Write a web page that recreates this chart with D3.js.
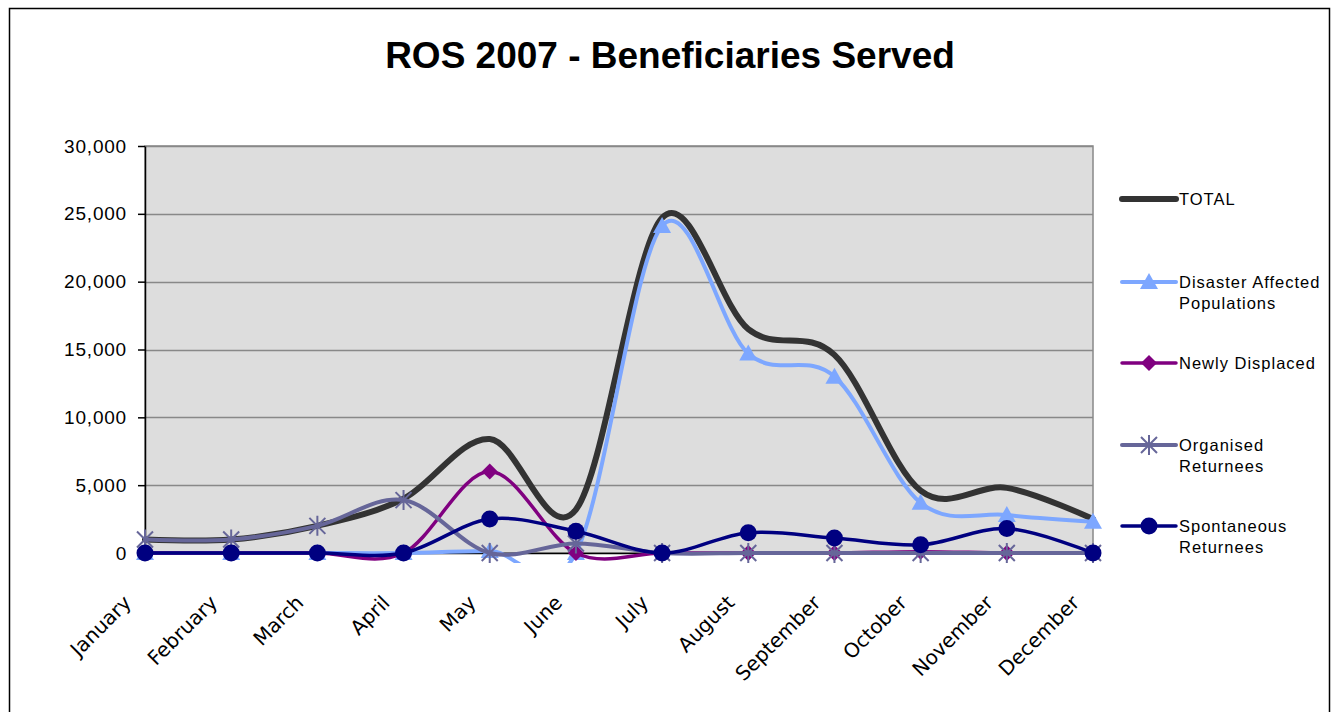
<!DOCTYPE html>
<html>
<head>
<meta charset="utf-8">
<script src="https://cdnjs.cloudflare.com/ajax/libs/d3/7.8.5/d3.min.js"></script>
<style>
body { margin: 0; background: #fff; }
svg { display: block; }
</style>
</head>
<body>
<svg id="chart" width="1332" height="712"></svg>
<script>
// months on the category axis
var months = ["January", "February", "March", "April", "May", "June",
	"July", "August", "September", "October", "November", "December"];

// beneficiaries per month
var total = [1000, 1000, 2000, 4000, 8400, 3200, 24700, 16500, 14600, 4600, 4800, 2500];
var disasterAffected = [0, 0, 0, 0, 150, 0, 24100, 14700, 13000, 3700, 2800, 2300];
var newlyDisplaced = [0, 0, 0, 0, 6000, 0, 0, 0, 0, 100, 0, 0];
var organisedReturnees = [1000, 1000, 2000, 3900, 0, 700, 0, 0, 0, 0, 0, 0];
var spontaneousReturnees = [0, 0, 0, 0, 2500, 1600, 0, 1500, 1100, 600, 1800, 0];

var yTicks = [0, 5000, 10000, 15000, 20000, 25000, 30000];

var series = [
	{name: ["TOTAL"], values: total, color: "#333333", width: 6, marker: "none"},
	{name: ["Disaster Affected", "Populations"], values: disasterAffected, color: "#7DA7FF", width: 4, marker: "triangle"},
	{name: ["Newly Displaced"], values: newlyDisplaced, color: "#800080", width: 3.5, marker: "diamond"},
	{name: ["Organised", "Returnees"], values: organisedReturnees, color: "#666699", width: 4, marker: "star"},
	{name: ["Spontaneous", "Returnees"], values: spontaneousReturnees, color: "#000080", width: 3.5, marker: "circle"}
];

var svg = d3.select("#chart");

//outer chart border (runs off the bottom of the picture)
svg.append("rect")
.attr("x", 9.5)
.attr("y", 8.5)
.attr("width", 1320)
.attr("height", 720)
.attr("fill", "#fff")
.attr("stroke", "#000")
.attr("stroke-width", 1.5);

svg.append("text")
.attr("x", 670)
.attr("y", 68)
.attr("text-anchor", "middle")
.style("font-family", "'Liberation Sans', Arial, sans-serif")
.style("font-weight", "bold")
.style("font-size", "37px")
.text("ROS 2007 - Beneficiaries Served");

//plot box (window.top is taken, so no plain "top")
var plotLeft = 145, plotRight = 1093, plotTop = 146, plotBottom = 553;

var x = d3.scalePoint()
.domain(months)
.range([plotLeft, plotRight]);

var y = d3.scaleLinear()
.domain([0, 30000])
.range([plotBottom, plotTop]);

//plot area
svg.append("rect")
.attr("x", plotLeft)
.attr("y", plotTop)
.attr("width", plotRight - plotLeft)
.attr("height", plotBottom - plotTop)
.attr("fill", "#DDDDDD")
.attr("stroke", "#888")
.attr("stroke-width", 1.5);

//gridlines
svg.append("g")
.selectAll("line")
.data(yTicks.slice(1))
.enter()
.append("line")
.attr("x1", plotLeft)
.attr("x2", plotRight)
.attr("y1", function(d){ return Math.round(y(d)) + 0.5; })
.attr("y2", function(d){ return Math.round(y(d)) + 0.5; })
.attr("stroke", "#888")
.attr("stroke-width", 1.5);

//y axis
var yAxis = d3.axisLeft(y)
.tickValues(yTicks)
.tickFormat(d3.format(","))
.tickSize(7)
.tickSizeOuter(0)
.tickPadding(11);

var yG = svg.append("g")
.attr("transform", "translate(" + plotLeft + ",0)")
.call(yAxis);
yG.select(".domain").attr("stroke", "#000").attr("stroke-width", 1.5);
yG.selectAll(".tick line").attr("stroke", "#000").attr("stroke-width", 1.5);
yG.selectAll("text")
.style("font-family", "'Liberation Sans', Arial, sans-serif")
.style("font-size", "19px")
.style("letter-spacing", "0.8px")
.attr("fill", "#000");

//x axis, labels turned 45 degrees
var xAxis = d3.axisBottom(x)
.tickSize(0)
.tickSizeOuter(0);

var xG = svg.append("g")
.attr("transform", "translate(0," + plotBottom + ")")
.call(xAxis);
xG.select(".domain").attr("stroke", "#000").attr("stroke-width", 1.5);
xG.selectAll("text")
.attr("x", 0)
.attr("y", 0)
.attr("dy", "0.35em")
.attr("text-anchor", "end")
.attr("transform", "translate(-18,46) rotate(-45)")
.style("font-family", "'DejaVu Sans', sans-serif")
.style("font-size", "20px")
.attr("fill", "#000");

//lines get clipped a little below the plot, like the original
svg.append("clipPath")
.attr("id", "plotclip")
.append("rect")
.attr("x", plotLeft - 15)
.attr("y", plotTop - 10)
.attr("width", plotRight - plotLeft + 30)
.attr("height", plotBottom - plotTop + 20);

var line = d3.line()
.x(function(d, i){ return x(months[i]); })
.y(function(d){ return y(d); })
.curve(d3.curveCardinal.tension(0));

function drawMarker(g, type, color){
	if(type == "triangle"){
		g.append("path")
		.attr("d", "M0,-9 L9,7 L-9,7 Z")
		.attr("fill", color);
	} else if(type == "diamond"){
		g.append("path")
		.attr("d", "M0,-8 L8,0 L0,8 L-8,0 Z")
		.attr("fill", color);
	} else if(type == "star"){
		g.append("path")
		.attr("d", "M-8,-8 L8,8 M-8,8 L8,-8 M0,-10 L0,10")
		.attr("stroke", color)
		.attr("stroke-width", 2)
		.attr("fill", "none");
	} else if(type == "circle"){
		g.append("circle")
		.attr("r", 8.5)
		.attr("fill", color);
	}
}

var plotG = svg.append("g").attr("clip-path", "url(#plotclip)");

series.forEach(function(s){
	plotG.append("path")
	.datum(s.values)
	.attr("d", line)
	.attr("fill", "none")
	.attr("stroke", s.color)
	.attr("stroke-width", s.width)
	.attr("stroke-linejoin", "round")
	.attr("stroke-linecap", "round");

	if(s.marker != "none"){
		s.values.forEach(function(v, i){
			var m = plotG.append("g")
			.attr("transform", "translate(" + x(months[i]) + "," + y(v) + ")");
			drawMarker(m, s.marker, s.color);
		});
	}
});

//legend
var legendY = [199, 282, 363, 445, 526];
var legend = svg.append("g");
series.forEach(function(s, i){
	var g = legend.append("g")
	.attr("transform", "translate(1122," + legendY[i] + ")");
	g.append("line")
	.attr("x1", 0)
	.attr("x2", 54)
	.attr("stroke", s.color)
	.attr("stroke-width", s.width)
	.attr("stroke-linecap", "round");
	if(s.marker != "none"){
		var m = g.append("g").attr("transform", "translate(27,0)");
		drawMarker(m, s.marker, s.color);
	}
	var t = g.append("text")
	.attr("x", 57)
	.attr("y", 6)
	.style("font-family", "'Liberation Sans', Arial, sans-serif")
	.style("font-size", "16.5px")
	.style("letter-spacing", "1px")
	.attr("fill", "#000");
	s.name.forEach(function(n, j){
		t.append("tspan")
		.attr("x", 57)
		.attr("dy", j == 0 ? 0 : 21)
		.text(n);
	});
});
</script>
</body>
</html>
